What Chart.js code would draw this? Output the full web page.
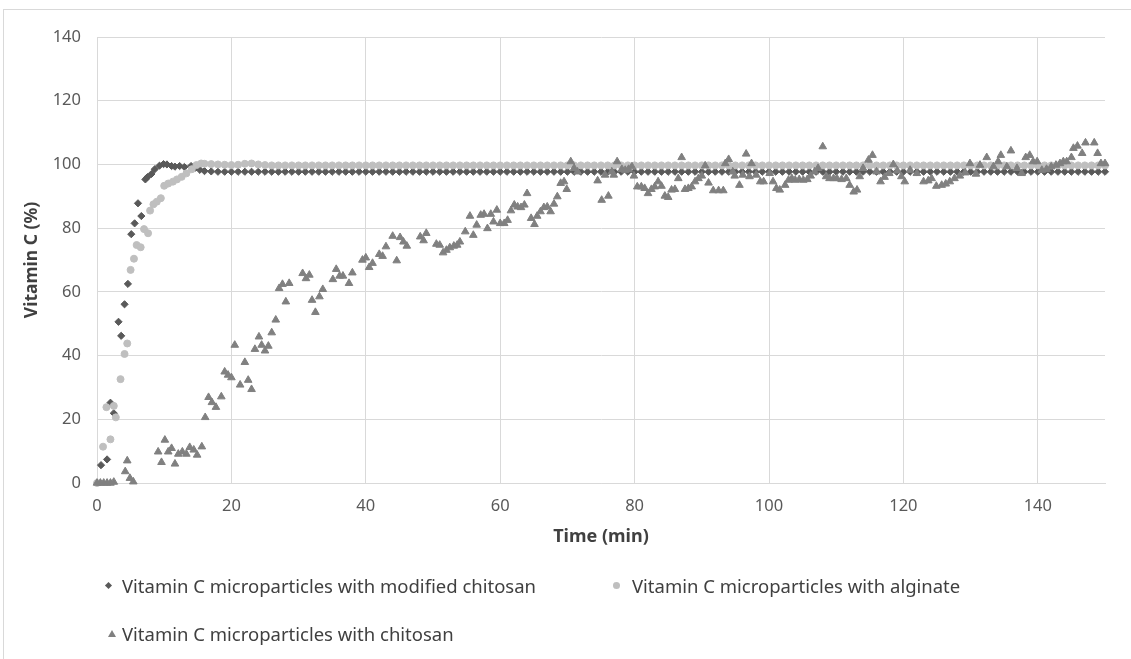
<!DOCTYPE html>
<html>
<head>
<meta charset="utf-8">
<script src="https://cdn.jsdelivr.net/npm/chart.js@4.4.0/dist/chart.umd.min.js"></script>
<style>
  html, body { margin: 0; padding: 0; background: #fff; }
  #wrap { position: relative; width: 1131px; height: 659px; overflow: hidden; font-family: "Noto Sans", sans-serif; }
  #frame { position: absolute; left: 3px; top: 9px; width: 1140px; height: 660px; border-top: 1px solid #d9d9d9; border-left: 1px solid #d9d9d9; }
  #chart { position: absolute; left: 0; top: 0; }
  .leg { position: absolute; font-size: 18.5px; color: #404040; white-space: nowrap; line-height: 24px; }
  .mk { position: absolute; }
  .diamond { width: 5px; height: 5px; background: #595959; transform: rotate(45deg); }
  .circle { width: 7px; height: 7px; border-radius: 50%; background: #bfbfbf; }
  .tri { width: 0; height: 0; border-left: 4px solid transparent; border-right: 4px solid transparent; border-bottom: 7px solid #808080; }
</style>
</head>
<body>
<div id="wrap">
  <div id="frame"></div>
  <canvas id="chart" width="1131" height="659"></canvas>
  <span class="mk diamond" style="left:106px; top:583px;"></span>
  <div class="leg" style="left:122px; top:574px;">Vitamin C microparticles with modified chitosan</div>
  <span class="mk circle" style="left:613px; top:582px;"></span>
  <div class="leg" style="left:632px; top:574px;">Vitamin C microparticles with alginate</div>
  <span class="mk tri" style="left:108px; top:630px;"></span>
  <div class="leg" style="left:122px; top:622px;">Vitamin C microparticles with chitosan</div>
</div>
<script>
// time points of the plateau (min), shared by the two flat series
var plateauTimes = [
  16, 17, 18, 19, 20, 21, 22, 23, 24, 25, 26, 27, 28, 29, 30,
  31, 32, 33, 34, 35, 36, 37, 38, 39, 40, 41, 42, 43, 44, 45,
  46, 47, 48, 49, 50, 51, 52, 53, 54, 55, 56, 57, 58, 59, 60,
  61, 62, 63, 64, 65, 66, 67, 68, 69, 70, 71, 72, 73, 74, 75,
  76, 77, 78, 79, 80, 81, 82, 83, 84, 85, 86, 87, 88, 89, 90,
  91, 92, 93, 94, 95, 96, 97, 98, 99, 100, 101, 102, 103, 104, 105,
  106, 107, 108, 109, 110, 111, 112, 113, 114, 115, 116, 117, 118, 119, 120,
  121, 122, 123, 124, 125, 126, 127, 128, 129, 130, 131, 132, 133, 134, 135,
  136, 137, 138, 139, 140, 141, 142, 143, 144, 145, 146, 147, 148, 149, 150
]

// modified chitosan
var modTimes = [0.6, 1.5, 2, 2.5, 3.2, 3.6, 4.1, 4.6, 5.1, 5.6, 6.1, 6.6, 7.2, 7.5, 8.1, 8.6, 9.3, 9.9, 10.4, 11.1, 11.6, 12.3, 13, 14, 14.7, 15.3]
var modValues = [5.6, 7.4, 25.2, 21.9, 50.6, 46.2, 56.1, 62.5, 78.1, 81.5, 87.8, 83.8, 95.3, 96.0, 97.0, 98.5, 99.6, 100.1, 100.0, 99.5, 99.3, 99.5, 99.2, 99.5, 99.0, 98.3]
var modPlateau = [
  97.9, 97.8, 97.7, 97.7, 97.7, 97.7, 97.7, 97.7, 97.7, 97.7, 97.7, 97.7, 97.7, 97.7, 97.7,
  97.7, 97.7, 97.7, 97.7, 97.7, 97.7, 97.7, 97.7, 97.7, 97.7, 97.7, 97.7, 97.7, 97.7, 97.7,
  97.7, 97.7, 97.7, 97.7, 97.7, 97.7, 97.7, 97.7, 97.7, 97.7, 97.7, 97.7, 97.7, 97.7, 97.7,
  97.7, 97.7, 97.7, 97.7, 97.7, 97.7, 97.7, 97.7, 97.7, 97.7, 97.7, 97.7, 97.7, 97.7, 97.7,
  97.7, 97.7, 97.7, 97.7, 97.7, 97.7, 97.7, 97.7, 97.7, 97.7, 97.7, 97.7, 97.7, 97.7, 97.7,
  97.7, 97.7, 97.7, 97.7, 97.7, 97.7, 97.7, 97.7, 97.7, 97.7, 97.7, 97.7, 97.7, 97.7, 97.7,
  97.7, 97.7, 97.7, 97.7, 97.7, 97.7, 97.7, 97.7, 97.7, 97.7, 97.7, 97.7, 97.7, 97.7, 97.7,
  97.7, 97.7, 97.7, 97.7, 97.7, 97.7, 97.7, 97.7, 97.7, 97.7, 97.7, 97.7, 97.7, 97.7, 97.7,
  97.7, 97.7, 97.7, 97.7, 97.7, 97.7, 97.7, 97.7, 97.7, 97.7, 97.7, 97.7, 97.7, 97.7, 97.7
]

// alginate
var algTimes = [0, 0.9, 1.4, 2, 2.5, 2.8, 3.5, 4.1, 4.5, 5, 5.5, 5.9, 6.5, 7, 7.6, 7.9, 8.4, 8.9, 9.5, 10, 10.6, 11.3, 11.9, 12.6, 13.3, 14.1, 14.8, 15.5]
var algValues = [0, 11.4, 23.8, 13.7, 24.2, 20.6, 32.6, 40.5, 43.8, 66.9, 70.4, 74.7, 74.0, 79.7, 78.4, 85.5, 87.5, 88.3, 89.4, 93.3, 94.0, 94.6, 95.3, 96.1, 97.2, 98.5, 99.8, 100.3]
var algPlateau = [
  100.2, 100.1, 100.0, 99.9, 99.8, 99.9, 100.2, 100.3, 100.0, 99.8, 99.7, 99.7, 99.7, 99.7, 99.7,
  99.7, 99.7, 99.7, 99.7, 99.7, 99.7, 99.7, 99.7, 99.7, 99.7, 99.7, 99.7, 99.7, 99.7, 99.7,
  99.7, 99.7, 99.7, 99.7, 99.7, 99.7, 99.7, 99.7, 99.7, 99.7, 99.7, 99.7, 99.7, 99.7, 99.7,
  99.7, 99.7, 99.7, 99.7, 99.7, 99.7, 99.7, 99.7, 99.7, 99.7, 99.7, 99.7, 99.7, 99.7, 99.7,
  99.7, 99.7, 99.7, 99.7, 99.7, 99.7, 99.7, 99.7, 99.7, 99.7, 99.7, 99.7, 99.7, 99.7, 99.7,
  99.7, 99.7, 99.7, 99.7, 99.7, 99.7, 99.7, 99.7, 99.7, 99.7, 99.7, 99.7, 99.7, 99.7, 99.7,
  99.7, 99.7, 99.7, 99.7, 99.7, 99.7, 99.7, 99.7, 99.7, 99.7, 99.7, 99.7, 99.7, 99.7, 99.7,
  99.7, 99.7, 99.7, 99.7, 99.7, 99.7, 99.7, 99.7, 99.7, 99.7, 99.7, 99.7, 99.7, 99.7, 99.7,
  99.7, 99.7, 99.7, 99.7, 99.7, 99.7, 99.7, 99.7, 99.7, 99.7, 99.7, 99.7, 99.7, 99.7, 99.7
]

// chitosan
var chiTimes = [
  0, 0.5, 1, 1.5, 2, 2.5, 4.2, 4.5, 4.9, 5.4,
  9.1, 9.6, 10.1, 10.6, 11.1, 11.6, 12.1, 12.7, 13.3, 13.8,
  14.4, 14.9, 15.6, 16.1, 16.6, 17.1, 17.7, 18.5, 19.0, 19.5,
  20.0, 20.5, 21.3, 22.0, 22.5, 23.0, 23.5, 24.1, 24.5, 25.0,
  25.5, 26.0, 26.6, 27.1, 27.6, 28.1, 28.6, 30.6, 31.1, 31.6,
  32.0, 32.5, 33.1, 33.6, 35.1, 35.6, 36.1, 36.6, 37.5, 38.0,
  39.5, 40.0, 40.5, 41.0, 42.0, 42.5, 43.0, 44.0, 44.6, 45.1,
  45.6, 46.1, 48.1, 48.6, 49.0, 50.5, 51.0, 51.5, 52.0, 52.5,
  53.1, 53.6, 54.0, 54.8, 55.5, 56.0, 56.5, 57.1, 57.6, 58.1,
  58.6, 59.0, 59.5, 60.0, 60.6, 61.1, 61.6, 62.1, 62.6, 63.1,
  63.6, 64.0, 64.6, 65.1, 65.5, 66.0, 66.5, 67.0, 67.5, 68.0,
  68.5, 69.0, 69.5, 69.9, 70.5, 71.0, 71.5, 74.5, 75.1, 75.6,
  76.1, 76.6, 76.9, 77.4, 78.1, 78.6, 79.1, 79.6, 79.9, 80.4,
  81.0, 81.5, 82.0, 82.5, 83.0, 83.5, 84.0, 84.5, 85.0, 85.5,
  86.0, 86.5, 87.0, 87.5, 88.0, 88.5, 89.0, 89.5, 90.0, 90.5,
  91.0, 91.7, 92.5, 93.2, 93.5, 94.0, 94.6, 94.9, 95.6, 96.1,
  96.6, 97.1, 97.4, 98.1, 98.7, 99.2, 100.1, 100.6, 101.1, 101.6,
  102.4, 102.9, 103.4, 103.9, 104.5, 105.1, 105.7, 106.2, 106.8, 107.3,
  108.0, 108.5, 109.0, 109.6, 110.1, 110.8, 111.5, 112.0, 112.6, 113.1,
  113.5, 114.0, 114.8, 115.4, 116.0, 116.6, 117.2, 117.9, 118.5, 119.1,
  119.7, 120.2, 121.0, 122.0, 123.0, 123.7, 124.2, 124.9, 125.7, 126.3,
  126.9, 127.6, 128.4, 129.2, 129.9, 130.8, 131.4, 132.4, 133.4, 134.1,
  134.5, 135.4, 136.0, 136.9, 137.6, 138.2, 138.8, 139.3, 139.9, 140.6,
  141.3, 142.0, 142.7, 143.3, 143.8, 144.3, 145.0, 145.3, 145.9, 146.6,
  147.1, 148.4, 148.9, 149.4, 150.0
]
var chiValues = [
  0, 0, 0, 0, 0, 0.3, 3.6, 7.0, 1.5, 0.4,
  9.8, 6.5, 13.5, 9.8, 10.9, 6.0, 9.1, 9.8, 9.1, 11.2,
  10.4, 8.8, 11.4, 20.6, 26.9, 25.3, 23.8, 27.1, 34.9, 33.9,
  33.1, 43.3, 30.8, 37.9, 32.3, 29.4, 42.0, 45.9, 43.3, 41.5,
  43.0, 47.2, 51.2, 61.1, 62.4, 56.9, 62.7, 65.8, 64.2, 65.3,
  57.4, 53.6, 58.5, 60.8, 63.9, 67.1, 65.0, 65.0, 62.7, 66.0,
  70.0, 70.7, 67.7, 69.0, 71.8, 71.2, 74.2, 77.5, 69.8, 77.1,
  75.7, 74.4, 77.3, 76.1, 78.4, 75.0, 74.7, 72.3, 73.1, 73.9,
  74.4, 74.7, 75.7, 78.9, 83.8, 77.8, 81.0, 84.1, 84.4, 79.9,
  84.4, 82.0, 85.7, 81.5, 81.5, 82.5, 85.5, 87.3, 86.7, 86.5,
  87.3, 90.9, 83.1, 81.2, 83.8, 85.2, 86.5, 86.7, 85.2, 87.6,
  89.9, 94.1, 94.6, 92.2, 100.9, 98.8, 97.7, 94.9, 88.8, 96.7,
  90.1, 97.7, 96.7, 100.9, 98.5, 98.2, 98.5, 99.3, 96.4, 93.0,
  93.0, 92.5, 90.9, 92.2, 93.0, 94.6, 93.2, 90.1, 89.7, 92.0,
  92.2, 95.6, 102.2, 92.2, 92.5, 93.0, 94.6, 95.6, 96.4, 99.6,
  94.2, 91.8, 91.8, 91.8, 100.3, 101.6, 97.7, 96.4, 93.5, 96.7,
  103.3, 96.2, 100.3, 96.7, 94.6, 94.6, 97.2, 94.6, 92.5, 92.0,
  93.5, 95.1, 95.6, 95.1, 95.3, 95.1, 95.3, 96.4, 97.7, 98.8,
  105.6, 96.2, 95.6, 95.6, 95.6, 95.3, 95.6, 93.5, 91.4, 92.0,
  96.2, 98.8, 101.4, 102.9, 97.7, 94.6, 96.0, 97.2, 100.0, 98.0,
  96.2, 94.6, 98.2, 97.2, 94.6, 94.9, 95.6, 93.2, 93.5, 93.9,
  94.6, 95.6, 96.4, 97.4, 100.3, 97.0, 99.8, 102.2, 99.3, 100.9,
  102.9, 99.3, 104.3, 98.8, 97.2, 102.2, 102.9, 100.9, 100.9, 98.2,
  98.5, 99.3, 99.8, 100.3, 100.9, 100.9, 102.2, 105.1, 105.8, 103.5,
  106.8, 106.8, 103.5, 100.3, 100.3
]

var xTicks = [0, 20, 40, 60, 80, 100, 120, 140]
var yTicks = [0, 20, 40, 60, 80, 100, 120, 140]

function points(times, values) {
  return times.map(function (t, i) { return { x: t, y: values[i] } })
}

var tickFont = { family: 'Noto Sans', size: 16.5 }

var ctx = document.getElementById('chart').getContext('2d')
var chart = new Chart(ctx, {
  type: 'scatter',
  data: {
    datasets: [{
      label: 'Vitamin C microparticles with modified chitosan',
      data: points(modTimes.concat(plateauTimes), modValues.concat(modPlateau)),
      pointStyle: 'rectRot',
      pointRadius: 3.6,
      pointBorderWidth: 1,
      backgroundColor: '#595959',
      borderColor: '#595959',
      clip: false,
      order: 2
    }, {
      label: 'Vitamin C microparticles with alginate',
      data: points(algTimes.concat(plateauTimes), algValues.concat(algPlateau)),
      pointStyle: 'circle',
      pointRadius: 3.5,
      pointBorderWidth: 1,
      backgroundColor: '#bfbfbf',
      borderColor: '#bfbfbf',
      clip: false,
      order: 1
    }, {
      label: 'Vitamin C microparticles with chitosan',
      data: points(chiTimes, chiValues),
      pointStyle: 'triangle',
      pointRadius: 4.4,
      pointBorderWidth: 1,
      backgroundColor: '#808080',
      borderColor: '#808080',
      clip: false,
      order: 0
    }]
  },
  options: {
    responsive: false,
    animation: false,
    events: [],
    layout: { padding: { left: 0, top: 37, right: 26, bottom: 111 } },
    plugins: {
      legend: { display: false },
      tooltip: { enabled: false }
    },
    scales: {
      x: {
        type: 'linear',
        min: 0,
        max: 150,
        afterBuildTicks: function (s) { s.ticks = xTicks.map(function (v) { return { value: v } }) },
        afterFit: function (s) { s.height = 65 },
        ticks: { color: '#595959', font: tickFont, padding: 13, maxRotation: 0 },
        grid: { color: '#d9d9d9', drawTicks: false },
        border: { color: '#d9d9d9' },
        title: { display: true, text: 'Time (min)', color: '#404040', font: { family: 'Noto Sans', size: 18, weight: 'bold' }, padding: { top: 0, bottom: 0 } }
      },
      y: {
        min: 0,
        max: 140,
        afterBuildTicks: function (s) { s.ticks = yTicks.map(function (v) { return { value: v } }) },
        afterFit: function (s) { s.width = 97 },
        ticks: { color: '#595959', font: tickFont, padding: 16 },
        grid: { color: '#d9d9d9', drawTicks: false },
        border: { color: '#d9d9d9' },
        title: { display: true, text: 'Vitamin C (%)', color: '#404040', font: { family: 'Noto Sans', size: 17.5, weight: 'bold' }, padding: { top: 22, bottom: 0 } }
      }
    }
  }
})
</script>
</body>
</html>
